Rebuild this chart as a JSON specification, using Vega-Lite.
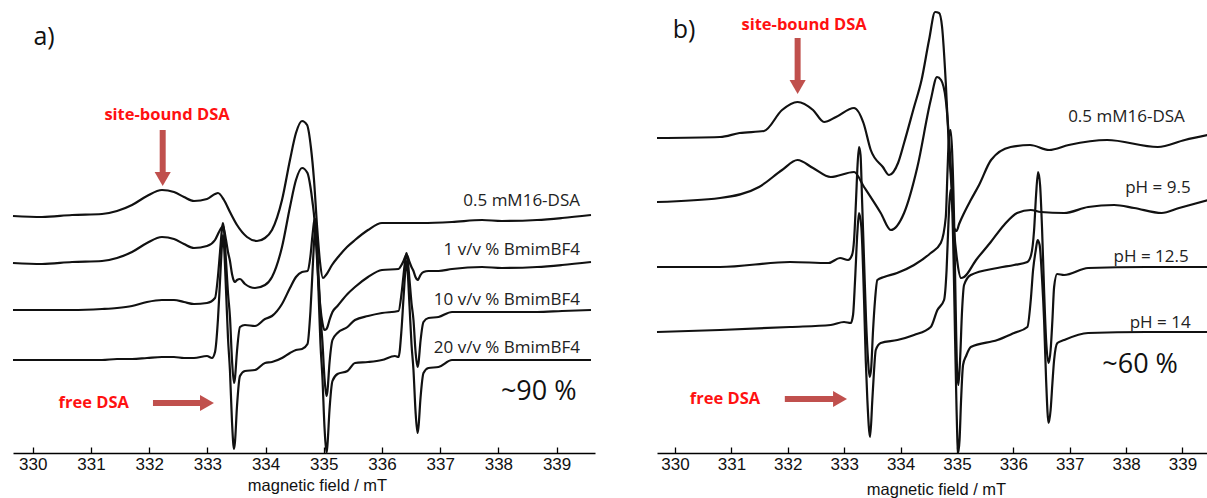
{
  "$schema": "https://vega.github.io/schema/vega-lite/v6.json",
  "background": "white",
  "padding": {"left": 11, "top": 0, "right": 0, "bottom": 0},
  "spacing": 60,
  "config": {
    "view": {"stroke": null},
    "axis": {
      "grid": false,
      "tickSize": -6,
      "tickColor": "#000",
      "tickWidth": 1.3,
      "domainColor": "#000",
      "domainWidth": 1.5,
      "labelFont": "Liberation Sans",
      "labelFontSize": 17,
      "labelColor": "#111",
      "labelPadding": 9,
      "labelFlush": false,
      "labelOverlap": false,
      "titleFont": "Liberation Sans",
      "titleFontSize": 16.5,
      "titleFontWeight": "normal",
      "titleColor": "#111"
    }
  },
  "datasets": {
    "left": [
      {"spectrum":"16-DSA","mT":329.660,"intensity":237},{"spectrum":"16-DSA","mT":330.158,"intensity":236},{"spectrum":"16-DSA","mT":330.674,"intensity":238},{"spectrum":"16-DSA","mT":331.189,"intensity":239},{"spectrum":"16-DSA","mT":331.447,"intensity":242},{"spectrum":"16-DSA","mT":331.705,"intensity":248},{"spectrum":"16-DSA","mT":331.962,"intensity":257},{"spectrum":"16-DSA","mT":332.220,"intensity":263},{"spectrum":"16-DSA","mT":332.426,"intensity":261},{"spectrum":"16-DSA","mT":332.598,"intensity":256},{"spectrum":"16-DSA","mT":332.770,"intensity":252},{"spectrum":"16-DSA","mT":332.993,"intensity":254},{"spectrum":"16-DSA","mT":333.131,"intensity":259},{"spectrum":"16-DSA","mT":333.182,"intensity":260},{"spectrum":"16-DSA","mT":333.285,"intensity":253},{"spectrum":"16-DSA","mT":333.388,"intensity":241},{"spectrum":"16-DSA","mT":333.509,"intensity":228},{"spectrum":"16-DSA","mT":333.681,"intensity":216},{"spectrum":"16-DSA","mT":333.852,"intensity":212},{"spectrum":"16-DSA","mT":333.990,"intensity":215},{"spectrum":"16-DSA","mT":334.110,"intensity":223},{"spectrum":"16-DSA","mT":334.282,"intensity":253},{"spectrum":"16-DSA","mT":334.419,"intensity":293},{"spectrum":"16-DSA","mT":334.522,"intensity":320},{"spectrum":"16-DSA","mT":334.626,"intensity":332},{"spectrum":"16-DSA","mT":334.713,"intensity":328},{"spectrum":"16-DSA","mT":334.780,"intensity":305},{"spectrum":"16-DSA","mT":334.832,"intensity":273},{"spectrum":"16-DSA","mT":334.883,"intensity":228},{"spectrum":"16-DSA","mT":334.935,"intensity":191},{"spectrum":"16-DSA","mT":334.986,"intensity":175},{"spectrum":"16-DSA","mT":335.038,"intensity":178},{"spectrum":"16-DSA","mT":335.141,"intensity":188},{"spectrum":"16-DSA","mT":335.261,"intensity":197},{"spectrum":"16-DSA","mT":335.399,"intensity":206},{"spectrum":"16-DSA","mT":335.536,"intensity":213},{"spectrum":"16-DSA","mT":335.760,"intensity":223},{"spectrum":"16-DSA","mT":335.999,"intensity":230},{"spectrum":"16-DSA","mT":336.344,"intensity":230},{"spectrum":"16-DSA","mT":336.687,"intensity":230},{"spectrum":"16-DSA","mT":337.203,"intensity":231},{"spectrum":"16-DSA","mT":337.718,"intensity":233},{"spectrum":"16-DSA","mT":338.062,"intensity":232},{"spectrum":"16-DSA","mT":338.663,"intensity":233},{"spectrum":"16-DSA","mT":339.093,"intensity":235},{"spectrum":"16-DSA","mT":339.591,"intensity":238},

      {"spectrum":"1%","mT":329.660,"intensity":190},{"spectrum":"1%","mT":330.158,"intensity":189},{"spectrum":"1%","mT":330.674,"intensity":191},{"spectrum":"1%","mT":331.189,"intensity":192},{"spectrum":"1%","mT":331.447,"intensity":195},{"spectrum":"1%","mT":331.705,"intensity":201},{"spectrum":"1%","mT":331.962,"intensity":210},{"spectrum":"1%","mT":332.220,"intensity":216},{"spectrum":"1%","mT":332.426,"intensity":214},{"spectrum":"1%","mT":332.598,"intensity":209},{"spectrum":"1%","mT":332.770,"intensity":205},{"spectrum":"1%","mT":332.993,"intensity":207},{"spectrum":"1%","mT":333.131,"intensity":213},{"spectrum":"1%","mT":333.182,"intensity":219},{"spectrum":"1%","mT":333.217,"intensity":223},{"spectrum":"1%","mT":333.251,"intensity":226},{"spectrum":"1%","mT":333.268,"intensity":227},{"spectrum":"1%","mT":333.285,"intensity":224},{"spectrum":"1%","mT":333.320,"intensity":213},{"spectrum":"1%","mT":333.354,"intensity":201},{"spectrum":"1%","mT":333.388,"intensity":192},{"spectrum":"1%","mT":333.423,"intensity":179},{"spectrum":"1%","mT":333.457,"intensity":172},{"spectrum":"1%","mT":333.474,"intensity":171},{"spectrum":"1%","mT":333.509,"intensity":173},{"spectrum":"1%","mT":333.560,"intensity":174},{"spectrum":"1%","mT":333.646,"intensity":169},{"spectrum":"1%","mT":333.818,"intensity":165},{"spectrum":"1%","mT":333.990,"intensity":168},{"spectrum":"1%","mT":334.110,"intensity":176},{"spectrum":"1%","mT":334.282,"intensity":206},{"spectrum":"1%","mT":334.419,"intensity":246},{"spectrum":"1%","mT":334.522,"intensity":273},{"spectrum":"1%","mT":334.626,"intensity":285},{"spectrum":"1%","mT":334.720,"intensity":280},{"spectrum":"1%","mT":334.771,"intensity":266},{"spectrum":"1%","mT":334.806,"intensity":251},{"spectrum":"1%","mT":334.840,"intensity":233},{"spectrum":"1%","mT":334.857,"intensity":219},{"spectrum":"1%","mT":334.874,"intensity":203},{"spectrum":"1%","mT":334.909,"intensity":170},{"spectrum":"1%","mT":334.943,"intensity":145},{"spectrum":"1%","mT":334.977,"intensity":130},{"spectrum":"1%","mT":335.012,"intensity":123},{"spectrum":"1%","mT":335.046,"intensity":124},{"spectrum":"1%","mT":335.063,"intensity":126},{"spectrum":"1%","mT":335.098,"intensity":133},{"spectrum":"1%","mT":335.149,"intensity":141},{"spectrum":"1%","mT":335.235,"intensity":147},{"spectrum":"1%","mT":335.407,"intensity":159},{"spectrum":"1%","mT":335.536,"intensity":166},{"spectrum":"1%","mT":335.760,"intensity":176},{"spectrum":"1%","mT":335.999,"intensity":183},{"spectrum":"1%","mT":336.284,"intensity":184},{"spectrum":"1%","mT":336.335,"intensity":188},{"spectrum":"1%","mT":336.370,"intensity":192},{"spectrum":"1%","mT":336.404,"intensity":197},{"spectrum":"1%","mT":336.421,"intensity":198},{"spectrum":"1%","mT":336.438,"intensity":197},{"spectrum":"1%","mT":336.473,"intensity":191},{"spectrum":"1%","mT":336.507,"intensity":186},{"spectrum":"1%","mT":336.541,"intensity":182},{"spectrum":"1%","mT":336.576,"intensity":176},{"spectrum":"1%","mT":336.610,"intensity":173},{"spectrum":"1%","mT":336.627,"intensity":174},{"spectrum":"1%","mT":336.662,"intensity":178},{"spectrum":"1%","mT":336.713,"intensity":181},{"spectrum":"1%","mT":336.799,"intensity":182},{"spectrum":"1%","mT":336.971,"intensity":182},{"spectrum":"1%","mT":337.203,"intensity":184},{"spectrum":"1%","mT":337.718,"intensity":186},{"spectrum":"1%","mT":338.062,"intensity":185},{"spectrum":"1%","mT":338.663,"intensity":186},{"spectrum":"1%","mT":339.093,"intensity":188},{"spectrum":"1%","mT":339.591,"intensity":191},

      {"spectrum":"10%","mT":329.660,"intensity":143},{"spectrum":"10%","mT":330.158,"intensity":143},{"spectrum":"10%","mT":330.674,"intensity":143},{"spectrum":"10%","mT":331.189,"intensity":144},{"spectrum":"10%","mT":331.447,"intensity":145},{"spectrum":"10%","mT":331.705,"intensity":147},{"spectrum":"10%","mT":331.962,"intensity":151},{"spectrum":"10%","mT":332.220,"intensity":153},{"spectrum":"10%","mT":332.426,"intensity":153},{"spectrum":"10%","mT":332.598,"intensity":151},{"spectrum":"10%","mT":332.770,"intensity":149},{"spectrum":"10%","mT":332.993,"intensity":150},{"spectrum":"10%","mT":333.131,"intensity":155},{"spectrum":"10%","mT":333.182,"intensity":177},{"spectrum":"10%","mT":333.217,"intensity":201},{"spectrum":"10%","mT":333.251,"intensity":224},{"spectrum":"10%","mT":333.268,"intensity":230},{"spectrum":"10%","mT":333.285,"intensity":223},{"spectrum":"10%","mT":333.320,"intensity":192},{"spectrum":"10%","mT":333.354,"intensity":160},{"spectrum":"10%","mT":333.388,"intensity":136},{"spectrum":"10%","mT":333.423,"intensity":93},{"spectrum":"10%","mT":333.457,"intensity":70},{"spectrum":"10%","mT":333.474,"intensity":75},{"spectrum":"10%","mT":333.509,"intensity":102},{"spectrum":"10%","mT":333.560,"intensity":126},{"spectrum":"10%","mT":333.646,"intensity":128},{"spectrum":"10%","mT":333.818,"intensity":127},{"spectrum":"10%","mT":333.990,"intensity":134},{"spectrum":"10%","mT":334.110,"intensity":137},{"spectrum":"10%","mT":334.282,"intensity":149},{"spectrum":"10%","mT":334.419,"intensity":165},{"spectrum":"10%","mT":334.522,"intensity":176},{"spectrum":"10%","mT":334.626,"intensity":181},{"spectrum":"10%","mT":334.720,"intensity":182},{"spectrum":"10%","mT":334.771,"intensity":197},{"spectrum":"10%","mT":334.806,"intensity":218},{"spectrum":"10%","mT":334.840,"intensity":233},{"spectrum":"10%","mT":334.857,"intensity":234},{"spectrum":"10%","mT":334.874,"intensity":221},{"spectrum":"10%","mT":334.909,"intensity":179},{"spectrum":"10%","mT":334.943,"intensity":138},{"spectrum":"10%","mT":334.977,"intensity":111},{"spectrum":"10%","mT":335.012,"intensity":75},{"spectrum":"10%","mT":335.046,"intensity":57},{"spectrum":"10%","mT":335.063,"intensity":62},{"spectrum":"10%","mT":335.098,"intensity":90},{"spectrum":"10%","mT":335.149,"intensity":113},{"spectrum":"10%","mT":335.235,"intensity":120},{"spectrum":"10%","mT":335.407,"intensity":126},{"spectrum":"10%","mT":335.536,"intensity":133},{"spectrum":"10%","mT":335.760,"intensity":137},{"spectrum":"10%","mT":335.999,"intensity":140},{"spectrum":"10%","mT":336.284,"intensity":142},{"spectrum":"10%","mT":336.335,"intensity":159},{"spectrum":"10%","mT":336.370,"intensity":178},{"spectrum":"10%","mT":336.404,"intensity":195},{"spectrum":"10%","mT":336.421,"intensity":200},{"spectrum":"10%","mT":336.438,"intensity":195},{"spectrum":"10%","mT":336.473,"intensity":173},{"spectrum":"10%","mT":336.507,"intensity":150},{"spectrum":"10%","mT":336.541,"intensity":133},{"spectrum":"10%","mT":336.576,"intensity":102},{"spectrum":"10%","mT":336.610,"intensity":86},{"spectrum":"10%","mT":336.627,"intensity":90},{"spectrum":"10%","mT":336.662,"intensity":112},{"spectrum":"10%","mT":336.713,"intensity":131},{"spectrum":"10%","mT":336.799,"intensity":135},{"spectrum":"10%","mT":336.971,"intensity":136},{"spectrum":"10%","mT":337.203,"intensity":141},{"spectrum":"10%","mT":337.718,"intensity":141},{"spectrum":"10%","mT":338.062,"intensity":141},{"spectrum":"10%","mT":338.663,"intensity":141},{"spectrum":"10%","mT":339.093,"intensity":142},{"spectrum":"10%","mT":339.591,"intensity":143},

      {"spectrum":"20%","mT":329.660,"intensity":93},{"spectrum":"20%","mT":330.158,"intensity":93},{"spectrum":"20%","mT":330.674,"intensity":93},{"spectrum":"20%","mT":331.189,"intensity":93},{"spectrum":"20%","mT":331.447,"intensity":94},{"spectrum":"20%","mT":331.705,"intensity":94},{"spectrum":"20%","mT":331.962,"intensity":95},{"spectrum":"20%","mT":332.220,"intensity":96},{"spectrum":"20%","mT":332.426,"intensity":96},{"spectrum":"20%","mT":332.598,"intensity":95},{"spectrum":"20%","mT":332.770,"intensity":95},{"spectrum":"20%","mT":332.993,"intensity":97},{"spectrum":"20%","mT":333.079,"intensity":95},{"spectrum":"20%","mT":333.131,"intensity":101},{"spectrum":"20%","mT":333.182,"intensity":134},{"spectrum":"20%","mT":333.217,"intensity":172},{"spectrum":"20%","mT":333.251,"intensity":208},{"spectrum":"20%","mT":333.268,"intensity":218},{"spectrum":"20%","mT":333.285,"intensity":208},{"spectrum":"20%","mT":333.320,"intensity":163},{"spectrum":"20%","mT":333.354,"intensity":115},{"spectrum":"20%","mT":333.388,"intensity":82},{"spectrum":"20%","mT":333.423,"intensity":31},{"spectrum":"20%","mT":333.457,"intensity":4},{"spectrum":"20%","mT":333.474,"intensity":11},{"spectrum":"20%","mT":333.509,"intensity":47},{"spectrum":"20%","mT":333.560,"intensity":77},{"spectrum":"20%","mT":333.646,"intensity":82},{"spectrum":"20%","mT":333.818,"intensity":83},{"spectrum":"20%","mT":333.990,"intensity":90},{"spectrum":"20%","mT":334.110,"intensity":91},{"spectrum":"20%","mT":334.282,"intensity":95},{"spectrum":"20%","mT":334.419,"intensity":100},{"spectrum":"20%","mT":334.522,"intensity":103},{"spectrum":"20%","mT":334.626,"intensity":104},{"spectrum":"20%","mT":334.720,"intensity":109},{"spectrum":"20%","mT":334.771,"intensity":142},{"spectrum":"20%","mT":334.806,"intensity":181},{"spectrum":"20%","mT":334.840,"intensity":217},{"spectrum":"20%","mT":334.857,"intensity":225},{"spectrum":"20%","mT":334.874,"intensity":213},{"spectrum":"20%","mT":334.909,"intensity":162},{"spectrum":"20%","mT":334.943,"intensity":109},{"spectrum":"20%","mT":334.977,"intensity":75},{"spectrum":"20%","mT":335.012,"intensity":26},{"spectrum":"20%","mT":335.046,"intensity":0},{"spectrum":"20%","mT":335.063,"intensity":8},{"spectrum":"20%","mT":335.098,"intensity":43},{"spectrum":"20%","mT":335.149,"intensity":72},{"spectrum":"20%","mT":335.235,"intensity":79},{"spectrum":"20%","mT":335.407,"intensity":82},{"spectrum":"20%","mT":335.536,"intensity":90},{"spectrum":"20%","mT":335.760,"intensity":91},{"spectrum":"20%","mT":335.999,"intensity":93},{"spectrum":"20%","mT":336.223,"intensity":97},{"spectrum":"20%","mT":336.284,"intensity":96},{"spectrum":"20%","mT":336.335,"intensity":123},{"spectrum":"20%","mT":336.370,"intensity":155},{"spectrum":"20%","mT":336.404,"intensity":184},{"spectrum":"20%","mT":336.421,"intensity":192},{"spectrum":"20%","mT":336.438,"intensity":184},{"spectrum":"20%","mT":336.473,"intensity":147},{"spectrum":"20%","mT":336.507,"intensity":109},{"spectrum":"20%","mT":336.541,"intensity":83},{"spectrum":"20%","mT":336.576,"intensity":42},{"spectrum":"20%","mT":336.610,"intensity":20},{"spectrum":"20%","mT":336.627,"intensity":26},{"spectrum":"20%","mT":336.662,"intensity":55},{"spectrum":"20%","mT":336.713,"intensity":80},{"spectrum":"20%","mT":336.799,"intensity":85},{"spectrum":"20%","mT":336.971,"intensity":86},{"spectrum":"20%","mT":337.203,"intensity":93},{"spectrum":"20%","mT":337.718,"intensity":93},{"spectrum":"20%","mT":338.062,"intensity":93},{"spectrum":"20%","mT":338.663,"intensity":93},{"spectrum":"20%","mT":339.093,"intensity":93},{"spectrum":"20%","mT":339.591,"intensity":93}
    ],
    "right": [
      {"spectrum":"16-DSA","mT":329.680,"intensity":315},{"spectrum":"16-DSA","mT":330.798,"intensity":316},{"spectrum":"16-DSA","mT":331.144,"intensity":320},{"spectrum":"16-DSA","mT":331.578,"intensity":322},{"spectrum":"16-DSA","mT":331.898,"intensity":343},{"spectrum":"16-DSA","mT":332.172,"intensity":351},{"spectrum":"16-DSA","mT":332.447,"intensity":343},{"spectrum":"16-DSA","mT":332.643,"intensity":331},{"spectrum":"16-DSA","mT":332.855,"intensity":336},{"spectrum":"16-DSA","mT":333.175,"intensity":345},{"spectrum":"16-DSA","mT":333.342,"intensity":330},{"spectrum":"16-DSA","mT":333.471,"intensity":303},{"spectrum":"16-DSA","mT":333.686,"intensity":286},{"spectrum":"16-DSA","mT":333.796,"intensity":278},{"spectrum":"16-DSA","mT":333.955,"intensity":290},{"spectrum":"16-DSA","mT":334.062,"intensity":310},{"spectrum":"16-DSA","mT":334.239,"intensity":346},{"spectrum":"16-DSA","mT":334.372,"intensity":373},{"spectrum":"16-DSA","mT":334.505,"intensity":413},{"spectrum":"16-DSA","mT":334.612,"intensity":441},{"spectrum":"16-DSA","mT":334.683,"intensity":440},{"spectrum":"16-DSA","mT":334.736,"intensity":426},{"spectrum":"16-DSA","mT":334.802,"intensity":370},{"spectrum":"16-DSA","mT":334.860,"intensity":303},{"spectrum":"16-DSA","mT":334.919,"intensity":253},{"spectrum":"16-DSA","mT":334.949,"intensity":225},{"spectrum":"16-DSA","mT":334.993,"intensity":222},{"spectrum":"16-DSA","mT":335.038,"intensity":229},{"spectrum":"16-DSA","mT":335.126,"intensity":240},{"spectrum":"16-DSA","mT":335.245,"intensity":253},{"spectrum":"16-DSA","mT":335.392,"intensity":268},{"spectrum":"16-DSA","mT":335.605,"intensity":293},{"spectrum":"16-DSA","mT":335.951,"intensity":306},{"spectrum":"16-DSA","mT":336.297,"intensity":308},{"spectrum":"16-DSA","mT":336.634,"intensity":303},{"spectrum":"16-DSA","mT":336.982,"intensity":308},{"spectrum":"16-DSA","mT":337.663,"intensity":313},{"spectrum":"16-DSA","mT":338.561,"intensity":306},{"spectrum":"16-DSA","mT":339.041,"intensity":313},{"spectrum":"16-DSA","mT":339.455,"intensity":318},

      {"spectrum":"pH 9.5","mT":329.680,"intensity":251},{"spectrum":"pH 9.5","mT":330.798,"intensity":255},{"spectrum":"pH 9.5","mT":331.490,"intensity":266},{"spectrum":"pH 9.5","mT":331.898,"intensity":283},{"spectrum":"pH 9.5","mT":332.172,"intensity":293},{"spectrum":"pH 9.5","mT":332.447,"intensity":285},{"spectrum":"pH 9.5","mT":332.761,"intensity":276},{"spectrum":"pH 9.5","mT":333.175,"intensity":281},{"spectrum":"pH 9.5","mT":333.352,"intensity":266},{"spectrum":"pH 9.5","mT":333.648,"intensity":240},{"spectrum":"pH 9.5","mT":333.826,"intensity":223},{"spectrum":"pH 9.5","mT":334.062,"intensity":240},{"spectrum":"pH 9.5","mT":334.298,"intensity":286},{"spectrum":"pH 9.5","mT":334.535,"intensity":353},{"spectrum":"pH 9.5","mT":334.647,"intensity":376},{"spectrum":"pH 9.5","mT":334.718,"intensity":373},{"spectrum":"pH 9.5","mT":334.802,"intensity":353},{"spectrum":"pH 9.5","mT":334.890,"intensity":286},{"spectrum":"pH 9.5","mT":334.949,"intensity":223},{"spectrum":"pH 9.5","mT":335.002,"intensity":193},{"spectrum":"pH 9.5","mT":335.073,"intensity":175},{"spectrum":"pH 9.5","mT":335.126,"intensity":176},{"spectrum":"pH 9.5","mT":335.339,"intensity":193},{"spectrum":"pH 9.5","mT":335.600,"intensity":211},{"spectrum":"pH 9.5","mT":335.836,"intensity":228},{"spectrum":"pH 9.5","mT":336.066,"intensity":240},{"spectrum":"pH 9.5","mT":336.309,"intensity":243},{"spectrum":"pH 9.5","mT":336.487,"intensity":241},{"spectrum":"pH 9.5","mT":336.900,"intensity":240},{"spectrum":"pH 9.5","mT":337.326,"intensity":246},{"spectrum":"pH 9.5","mT":337.787,"intensity":248},{"spectrum":"pH 9.5","mT":338.142,"intensity":245},{"spectrum":"pH 9.5","mT":338.630,"intensity":240},{"spectrum":"pH 9.5","mT":338.940,"intensity":245},{"spectrum":"pH 9.5","mT":339.455,"intensity":253},

      {"spectrum":"pH 12.5","mT":329.680,"intensity":186},{"spectrum":"pH 12.5","mT":330.798,"intensity":186},{"spectrum":"pH 12.5","mT":332.039,"intensity":191},{"spectrum":"pH 12.5","mT":332.722,"intensity":190},{"spectrum":"pH 12.5","mT":332.926,"intensity":195},{"spectrum":"pH 12.5","mT":333.068,"intensity":193},{"spectrum":"pH 12.5","mT":333.139,"intensity":198},{"spectrum":"pH 12.5","mT":333.175,"intensity":213},{"spectrum":"pH 12.5","mT":333.210,"intensity":253},{"spectrum":"pH 12.5","mT":333.237,"intensity":288},{"spectrum":"pH 12.5","mT":333.263,"intensity":306},{"spectrum":"pH 12.5","mT":333.290,"intensity":298},{"spectrum":"pH 12.5","mT":333.317,"intensity":253},{"spectrum":"pH 12.5","mT":333.352,"intensity":193},{"spectrum":"pH 12.5","mT":333.388,"intensity":133},{"spectrum":"pH 12.5","mT":333.423,"intensity":93},{"spectrum":"pH 12.5","mT":333.450,"intensity":76},{"spectrum":"pH 12.5","mT":333.476,"intensity":83},{"spectrum":"pH 12.5","mT":333.512,"intensity":123},{"spectrum":"pH 12.5","mT":333.547,"intensity":153},{"spectrum":"pH 12.5","mT":333.588,"intensity":173},{"spectrum":"pH 12.5","mT":333.707,"intensity":176},{"spectrum":"pH 12.5","mT":333.938,"intensity":180},{"spectrum":"pH 12.5","mT":334.239,"intensity":188},{"spectrum":"pH 12.5","mT":334.535,"intensity":200},{"spectrum":"pH 12.5","mT":334.713,"intensity":210},{"spectrum":"pH 12.5","mT":334.802,"intensity":236},{"spectrum":"pH 12.5","mT":334.833,"intensity":283},{"spectrum":"pH 12.5","mT":334.860,"intensity":318},{"spectrum":"pH 12.5","mT":334.886,"intensity":323},{"spectrum":"pH 12.5","mT":334.913,"intensity":303},{"spectrum":"pH 12.5","mT":334.949,"intensity":233},{"spectrum":"pH 12.5","mT":334.975,"intensity":153},{"spectrum":"pH 12.5","mT":335.002,"intensity":83},{"spectrum":"pH 12.5","mT":335.025,"intensity":68},{"spectrum":"pH 12.5","mT":335.055,"intensity":93},{"spectrum":"pH 12.5","mT":335.091,"intensity":143},{"spectrum":"pH 12.5","mT":335.126,"intensity":168},{"spectrum":"pH 12.5","mT":335.245,"intensity":178},{"spectrum":"pH 12.5","mT":335.717,"intensity":185},{"spectrum":"pH 12.5","mT":336.013,"intensity":188},{"spectrum":"pH 12.5","mT":336.249,"intensity":191},{"spectrum":"pH 12.5","mT":336.315,"intensity":198},{"spectrum":"pH 12.5","mT":336.368,"intensity":223},{"spectrum":"pH 12.5","mT":336.403,"intensity":258},{"spectrum":"pH 12.5","mT":336.439,"intensity":281},{"spectrum":"pH 12.5","mT":336.474,"intensity":268},{"spectrum":"pH 12.5","mT":336.510,"intensity":223},{"spectrum":"pH 12.5","mT":336.545,"intensity":163},{"spectrum":"pH 12.5","mT":336.581,"intensity":113},{"spectrum":"pH 12.5","mT":336.625,"intensity":90},{"spectrum":"pH 12.5","mT":336.661,"intensity":103},{"spectrum":"pH 12.5","mT":336.693,"intensity":133},{"spectrum":"pH 12.5","mT":336.723,"intensity":166},{"spectrum":"pH 12.5","mT":336.776,"intensity":179},{"spectrum":"pH 12.5","mT":336.900,"intensity":178},{"spectrum":"pH 12.5","mT":337.326,"intensity":185},{"spectrum":"pH 12.5","mT":338.355,"intensity":186},{"spectrum":"pH 12.5","mT":339.455,"intensity":186},

      {"spectrum":"pH 14","mT":329.680,"intensity":121},{"spectrum":"pH 14","mT":330.798,"intensity":123},{"spectrum":"pH 14","mT":332.039,"intensity":126},{"spectrum":"pH 14","mT":332.761,"intensity":128},{"spectrum":"pH 14","mT":332.997,"intensity":131},{"spectrum":"pH 14","mT":333.116,"intensity":130},{"spectrum":"pH 14","mT":333.157,"intensity":138},{"spectrum":"pH 14","mT":333.193,"intensity":173},{"spectrum":"pH 14","mT":333.233,"intensity":220},{"spectrum":"pH 14","mT":333.263,"intensity":240},{"spectrum":"pH 14","mT":333.304,"intensity":226},{"spectrum":"pH 14","mT":333.352,"intensity":153},{"spectrum":"pH 14","mT":333.382,"intensity":93},{"spectrum":"pH 14","mT":333.411,"intensity":53},{"spectrum":"pH 14","mT":333.459,"intensity":16},{"spectrum":"pH 14","mT":333.499,"intensity":53},{"spectrum":"pH 14","mT":333.530,"intensity":83},{"spectrum":"pH 14","mT":333.560,"intensity":103},{"spectrum":"pH 14","mT":333.648,"intensity":110},{"spectrum":"pH 14","mT":333.943,"intensity":113},{"spectrum":"pH 14","mT":334.239,"intensity":118},{"spectrum":"pH 14","mT":334.535,"intensity":126},{"spectrum":"pH 14","mT":334.653,"intensity":143},{"spectrum":"pH 14","mT":334.771,"intensity":153},{"spectrum":"pH 14","mT":334.816,"intensity":183},{"spectrum":"pH 14","mT":334.851,"intensity":233},{"spectrum":"pH 14","mT":334.883,"intensity":263},{"spectrum":"pH 14","mT":334.913,"intensity":248},{"spectrum":"pH 14","mT":334.940,"intensity":193},{"spectrum":"pH 14","mT":334.967,"intensity":113},{"spectrum":"pH 14","mT":334.993,"intensity":43},{"spectrum":"pH 14","mT":335.020,"intensity":0},{"spectrum":"pH 14","mT":335.046,"intensity":13},{"spectrum":"pH 14","mT":335.073,"intensity":53},{"spectrum":"pH 14","mT":335.108,"intensity":88},{"spectrum":"pH 14","mT":335.162,"intensity":97},{"spectrum":"pH 14","mT":335.245,"intensity":106},{"spectrum":"pH 14","mT":335.717,"intensity":113},{"spectrum":"pH 14","mT":336.013,"intensity":120},{"spectrum":"pH 14","mT":336.249,"intensity":126},{"spectrum":"pH 14","mT":336.309,"intensity":153},{"spectrum":"pH 14","mT":336.350,"intensity":183},{"spectrum":"pH 14","mT":336.398,"intensity":203},{"spectrum":"pH 14","mT":336.430,"intensity":213},{"spectrum":"pH 14","mT":336.466,"intensity":208},{"spectrum":"pH 14","mT":336.510,"intensity":173},{"spectrum":"pH 14","mT":336.545,"intensity":133},{"spectrum":"pH 14","mT":336.581,"intensity":73},{"spectrum":"pH 14","mT":336.625,"intensity":30},{"spectrum":"pH 14","mT":336.661,"intensity":43},{"spectrum":"pH 14","mT":336.693,"intensity":70},{"spectrum":"pH 14","mT":336.723,"intensity":93},{"spectrum":"pH 14","mT":336.781,"intensity":110},{"spectrum":"pH 14","mT":336.900,"intensity":113},{"spectrum":"pH 14","mT":337.326,"intensity":120},{"spectrum":"pH 14","mT":338.355,"intensity":121},{"spectrum":"pH 14","mT":339.455,"intensity":121}
    ]
  },
  "hconcat": [
    {
      "width": 582,
      "height": 453,
      "layer": [
        {
          "data": {"name": "left"},
          "mark": {"type": "line", "color": "#111", "strokeJoin": "round", "interpolate": "monotone"},
          "encoding": {
            "x": {"field": "mT", "type": "quantitative", "scale": {"domain": [329.66, 339.66], "nice": false, "zero": false},
                  "axis": {"values": [330,331,332,333,334,335,336,337,338,339], "format": "d", "title": "magnetic field / mT", "titleX": 304, "titleY": 32, "titleBaseline": "middle", "titleAlign": "center"}},
            "y": {"field": "intensity", "type": "quantitative", "scale": {"domain": [0, 453], "nice": false, "zero": false}, "axis": null},
            "strokeWidth": {"field": "spectrum", "type": "nominal", "scale": {"domain": ["16-DSA","1%","10%","20%"], "range": [2.2, 2.2, 2, 1.2]}, "legend": null}
          }
        },
        {
          "data": {"values": [
            {"x": 332.232, "y": 323, "x2": 332.232, "y2": 281},
            {"x": 332.065, "y": 50, "x2": 332.98, "y2": 50}
          ]},
          "mark": {"type": "rule", "color": "#c0504d", "strokeWidth": 6},
          "encoding": {
            "x": {"field": "x", "type": "quantitative"},
            "x2": {"field": "x2"},
            "y": {"field": "y", "type": "quantitative"},
            "y2": {"field": "y2"}
          }
        },
        {
          "data": {"values": [
            {"x": 332.232, "y": 274, "dir": "down"},
            {"x": 332.993, "y": 50, "dir": "right"}
          ]},
          "mark": {"type": "point", "filled": true, "color": "#c0504d", "opacity": 1, "size": 260},
          "encoding": {
            "x": {"field": "x", "type": "quantitative"},
            "y": {"field": "y", "type": "quantitative"},
            "shape": {"field": "dir", "type": "nominal", "scale": {"domain": ["down", "right"], "range": ["triangle-down", "triangle-right"]}, "legend": null}
          }
        },
        {
          "data": {"values": [
            {"label": "site-bound DSA", "x": 332.306, "y": 338},
            {"label": "free DSA", "x": 331.047, "y": 50}
          ]},
          "mark": {"type": "text", "font": "Open Sans", "fontWeight": "bold", "fontSize": 16.5, "color": "#ff1111", "align": "center", "baseline": "middle"},
          "encoding": {
            "x": {"field": "x", "type": "quantitative"},
            "y": {"field": "y", "type": "quantitative"},
            "text": {"field": "label"}
          }
        },
        {
          "data": {"values": [
            {"label": "0.5 mM16-DSA", "x": 339.402, "y": 252},
            {"label": "1 v/v % BmimBF4", "x": 339.402, "y": 203},
            {"label": "10 v/v % BmimBF4", "x": 339.402, "y": 153},
            {"label": "20 v/v % BmimBF4", "x": 339.402, "y": 105}
          ]},
          "mark": {"type": "text", "font": "Open Sans", "fontSize": 17, "color": "#222", "align": "right", "baseline": "middle"},
          "encoding": {
            "x": {"field": "x", "type": "quantitative"},
            "y": {"field": "y", "type": "quantitative"},
            "text": {"field": "label"}
          }
        },
        {
          "data": {"values": [{"label": "~90 %", "x": 338.693, "y": 61}]},
          "mark": {"type": "text", "font": "Open Sans", "fontSize": 27, "color": "#111", "align": "center", "baseline": "middle"},
          "encoding": {
            "x": {"field": "x", "type": "quantitative"},
            "y": {"field": "y", "type": "quantitative"},
            "text": {"field": "label"}
          }
        },
        {
          "data": {"values": [{"label": "a)", "x": 330.193, "y": 416}]},
          "mark": {"type": "text", "font": "Open Sans", "fontSize": 25, "color": "#111", "align": "center", "baseline": "middle"},
          "encoding": {
            "x": {"field": "x", "type": "quantitative"},
            "y": {"field": "y", "type": "quantitative"},
            "text": {"field": "label"}
          }
        }
      ]
    },
    {
      "width": 552,
      "height": 453,
      "layer": [
        {
          "data": {"name": "right"},
          "mark": {"type": "line", "color": "#111", "strokeJoin": "round", "interpolate": "monotone"},
          "encoding": {
            "x": {"field": "mT", "type": "quantitative", "scale": {"domain": [329.68, 339.47], "nice": false, "zero": false},
                  "axis": {"values": [330,331,332,333,334,335,336,337,338,339], "format": "d", "title": "magnetic field / mT", "titleX": 279, "titleY": 36, "titleBaseline": "middle", "titleAlign": "center"}},
            "y": {"field": "intensity", "type": "quantitative", "scale": {"domain": [0, 453], "nice": false, "zero": false}, "axis": null},
            "strokeWidth": {"field": "spectrum", "type": "nominal", "scale": {"domain": ["16-DSA","pH 9.5","pH 12.5","pH 14"], "range": [2.2, 1.2, 1.2, 1.2]}, "legend": null}
          }
        },
        {
          "data": {"values": [
            {"x": 332.174, "y": 415, "x2": 332.174, "y2": 373},
            {"x": 331.947, "y": 54, "x2": 332.87, "y2": 54}
          ]},
          "mark": {"type": "rule", "color": "#c0504d", "strokeWidth": 6},
          "encoding": {
            "x": {"field": "x", "type": "quantitative"},
            "x2": {"field": "x2"},
            "y": {"field": "y", "type": "quantitative"},
            "y2": {"field": "y2"}
          }
        },
        {
          "data": {"values": [
            {"x": 332.174, "y": 366, "dir": "down"},
            {"x": 332.926, "y": 54, "dir": "right"}
          ]},
          "mark": {"type": "point", "filled": true, "color": "#c0504d", "opacity": 1, "size": 260},
          "encoding": {
            "x": {"field": "x", "type": "quantitative"},
            "y": {"field": "y", "type": "quantitative"},
            "shape": {"field": "dir", "type": "nominal", "scale": {"domain": ["down", "right"], "range": ["triangle-down", "triangle-right"]}, "legend": null}
          }
        },
        {
          "data": {"values": [
            {"label": "site-bound DSA", "x": 332.288, "y": 428},
            {"label": "free DSA", "x": 330.886, "y": 54}
          ]},
          "mark": {"type": "text", "font": "Open Sans", "fontWeight": "bold", "fontSize": 16.5, "color": "#ff1111", "align": "center", "baseline": "middle"},
          "encoding": {
            "x": {"field": "x", "type": "quantitative"},
            "y": {"field": "y", "type": "quantitative"},
            "text": {"field": "label"}
          }
        },
        {
          "data": {"values": [
            {"label": "0.5 mM16-DSA", "x": 339.041, "y": 336},
            {"label": "pH = 9.5", "x": 339.144, "y": 265},
            {"label": "pH = 12.5", "x": 339.110, "y": 196},
            {"label": "pH = 14", "x": 339.144, "y": 130}
          ]},
          "mark": {"type": "text", "font": "Open Sans", "fontSize": 17, "color": "#222", "align": "right", "baseline": "middle"},
          "encoding": {
            "x": {"field": "x", "type": "quantitative"},
            "y": {"field": "y", "type": "quantitative"},
            "text": {"field": "label"}
          }
        },
        {
          "data": {"values": [{"label": "~60 %", "x": 338.248, "y": 88}]},
          "mark": {"type": "text", "font": "Open Sans", "fontSize": 27, "color": "#111", "align": "center", "baseline": "middle"},
          "encoding": {
            "x": {"field": "x", "type": "quantitative"},
            "y": {"field": "y", "type": "quantitative"},
            "text": {"field": "label"}
          }
        },
        {
          "data": {"values": [{"label": "b)", "x": 330.159, "y": 423.5}]},
          "mark": {"type": "text", "font": "Open Sans", "fontSize": 25, "color": "#111", "align": "center", "baseline": "middle"},
          "encoding": {
            "x": {"field": "x", "type": "quantitative"},
            "y": {"field": "y", "type": "quantitative"},
            "text": {"field": "label"}
          }
        }
      ]
    }
  ]
}
